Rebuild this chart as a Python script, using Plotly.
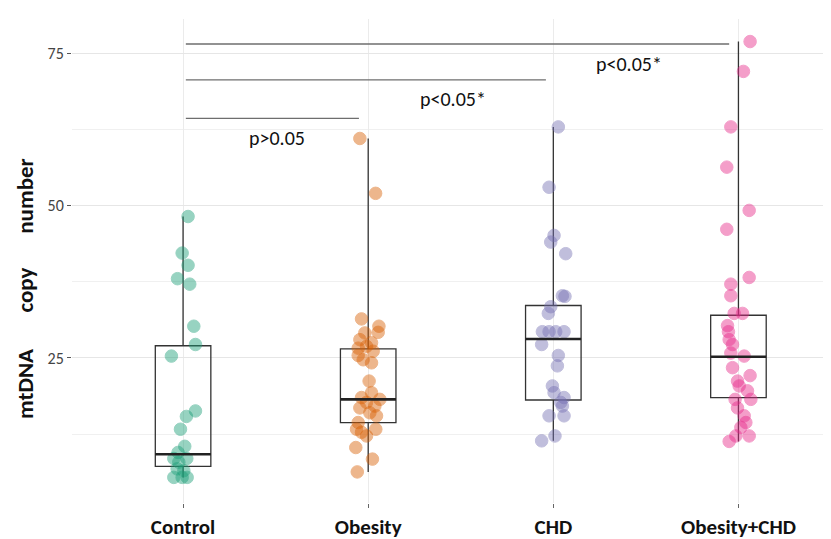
import plotly.graph_objects as go

categories = ["Control", "Obesity", "CHD", "Obesity+CHD"]
colors = ["#1b9e77", "#d95f02", "#7570b3", "#e7298a"]

# jittered point values and horizontal jitter offsets (category units)
control_vals = [48.2, 42.2, 40.2, 38.0, 37.1, 30.2, 27.2, 25.3, 16.3, 15.4, 13.3, 10.5, 9.5,
                8.5, 8.5, 7.9, 6.8, 6.5, 5.4, 5.4, 5.4]
control_jit = [0.027, -0.005, 0.027, -0.03, 0.036, 0.058, 0.067, -0.063, 0.067, 0.018, -0.014,
               0.009, -0.027, -0.05, 0.02, -0.023, -0.032, 0.004, -0.05, -0.005, 0.022]

obesity_vals = [61.0, 52.0, 31.4, 30.2, 29.2, 29.1, 28.0, 27.5, 26.9, 26.6, 26.1, 25.4, 24.7,
                24.2, 21.2, 19.3, 18.5, 18.2, 17.7, 17.1, 16.8, 16.0, 15.5, 14.4, 13.3, 12.8,
                13.3, 12.2, 10.3, 8.4, 6.3]
obesity_jit = [-0.045, 0.04, -0.036, 0.058, 0.054, -0.018, -0.045, 0.018, -0.009, -0.054, 0.027,
               -0.054, -0.027, 0.018, 0.005, 0.018, -0.036, 0.063, -0.009, 0.036, -0.045, 0.009,
               0.045, -0.054, -0.063, -0.036, 0.041, -0.009, -0.067, 0.023, -0.059]

chd_vals = [62.9, 53.0, 45.1, 44.0, 42.1, 35.2, 35.1, 33.4, 32.3, 29.3, 29.3, 29.3, 29.3, 27.2,
            25.4, 23.7, 20.4, 19.3, 18.5, 17.7, 17.1, 15.5, 15.5, 12.2, 11.4]
chd_jit = [0.027, -0.023, 0.004, -0.014, 0.067, 0.049, 0.063, -0.014, -0.027, -0.059, -0.023,
           0.013, 0.058, -0.063, 0.027, 0.022, -0.005, 0.004, 0.058, 0.04, 0.049, -0.023, 0.058,
           0.009, -0.063]

obchd_vals = [76.9, 72.0, 62.9, 56.3, 49.2, 46.1, 38.2, 37.1, 35.2, 32.3, 32.3, 30.3, 29.3,
              28.0, 27.2, 25.8, 25.3, 23.4, 22.1, 21.2, 20.4, 19.6, 18.2, 18.2, 16.8, 15.5,
              14.4, 13.6, 12.2, 12.2, 11.3]
obchd_jit = [0.063, 0.027, -0.041, -0.063, 0.058, -0.063, 0.058, -0.041, -0.041, -0.023, 0.022,
             -0.059, -0.054, -0.05, -0.032, -0.041, 0.031, -0.032, 0.063, -0.005, 0.004, 0.049,
             -0.018, 0.067, -0.005, 0.031, 0.04, 0.013, 0.058, -0.014, -0.05]

# boxplot statistics
box_q1 = [7.2, 14.4, 18.1, 18.5]
box_median = [9.2, 18.2, 28.1, 25.2]
box_q3 = [27.0, 26.5, 33.6, 32.0]
box_low = [5.4, 6.3, 11.4, 11.3]
box_high = [48.2, 61.0, 62.9, 76.9]

# significance brackets
sig_start = [1, 1, 1]
sig_end = [1.95, 2.96, 3.95]
sig_y = [64.3, 70.6, 76.5]
sig_labels = ["p>0.05", "p<0.05*", "p<0.05*"]
sig_label_x = [1.51, 2.46, 3.41]
sig_label_y = [61.0, 67.4, 73.2]

y_ticks = [25, 50, 75]
y_title_words = ["number", "copy", "mtDNA"]
y_title_pos = [51.6, 36.2, 20.7]

FONT = "Carlito, Lato, 'Liberation Sans', sans-serif"

fig = go.Figure()

all_vals = [control_vals, obesity_vals, chd_vals, obchd_vals]
all_jit = [control_jit, obesity_jit, chd_jit, obchd_jit]

for i, cat in enumerate(categories):
    pos = i + 1
    fig.add_trace(go.Box(
        x=[pos], q1=[box_q1[i]], median=[box_median[i]], q3=[box_q3[i]],
        lowerfence=[box_low[i]], upperfence=[box_high[i]],
        width=0.3, whiskerwidth=0, fillcolor="rgba(0,0,0,0)",
        line=dict(color="#333333", width=1.3), boxpoints=False,
        showlegend=False, hoverinfo="skip",
    ))

for i, cat in enumerate(categories):
    pos = i + 1
    fig.add_trace(go.Scatter(
        x=[pos + j for j in all_jit[i]], y=all_vals[i], mode="markers",
        marker=dict(size=12.5, color=colors[i], opacity=0.45,
                    line=dict(color=colors[i], width=1)),
        showlegend=False, name=cat,
    ))

# thicker median lines
for i in range(len(categories)):
    pos = i + 1
    fig.add_shape(type="line", x0=pos - 0.15, x1=pos + 0.15, y0=box_median[i], y1=box_median[i],
                  xref="x", yref="y", line=dict(color="#222222", width=2.6))

for s, e, y in zip(sig_start, sig_end, sig_y):
    fig.add_shape(type="line", x0=s + 0.015, x1=e, y0=y, y1=y, xref="x", yref="y",
                  line=dict(color="#6e6e6e", width=1.3))

for t, x, y in zip(sig_labels, sig_label_x, sig_label_y):
    fig.add_annotation(x=x, y=y, text=t, showarrow=False, xref="x", yref="y",
                       font=dict(family=FONT, size=20, color="#111111"))

# y-axis title words
for word, yv in zip(y_title_words, y_title_pos):
    fig.add_annotation(x=-0.062, y=yv, xref="paper", yref="y", text="<b>" + word + "</b>",
                       textangle=-90, showarrow=False, xanchor="center", yanchor="middle",
                       font=dict(family=FONT, size=23, color="#111111"))

# page body has an 8px default margin, so the figure is sized to fit the window
fig.update_layout(
    width=823, height=531,
    margin=dict(l=64, r=0, t=11, b=36),
    plot_bgcolor="white", paper_bgcolor="white",
    font=dict(family=FONT),
    xaxis=dict(
        range=[0.4, 4.5], tickvals=[1, 2, 3, 4],
        ticktext=["<b>" + c + "</b>" for c in categories],
        showgrid=True, gridcolor="#ebebeb", gridwidth=1.2, zeroline=False,
        ticks="outside", ticklen=4, tickcolor="#666666", tickwidth=1,
        tickfont=dict(family=FONT, size=21, color="#111111"),
        ticklabelstandoff=1, showline=False, automargin=False,
    ),
    yaxis=dict(
        range=[1.2, 80.6], tickvals=y_ticks, ticktext=[str(v) for v in y_ticks],
        showgrid=True, gridcolor="#e6e6e6", gridwidth=1.2, zeroline=False,
        ticks="outside", ticklen=4, tickcolor="#555555", tickwidth=1,
        tickfont=dict(family=FONT, size=16, color="#444444"),
        minor=dict(tickvals=[12.5, 37.5, 62.5], showgrid=True, gridcolor="#f0f0f0", gridwidth=1),
        showline=False, automargin=False,
    ),
)

fig.write_html("out.html")
